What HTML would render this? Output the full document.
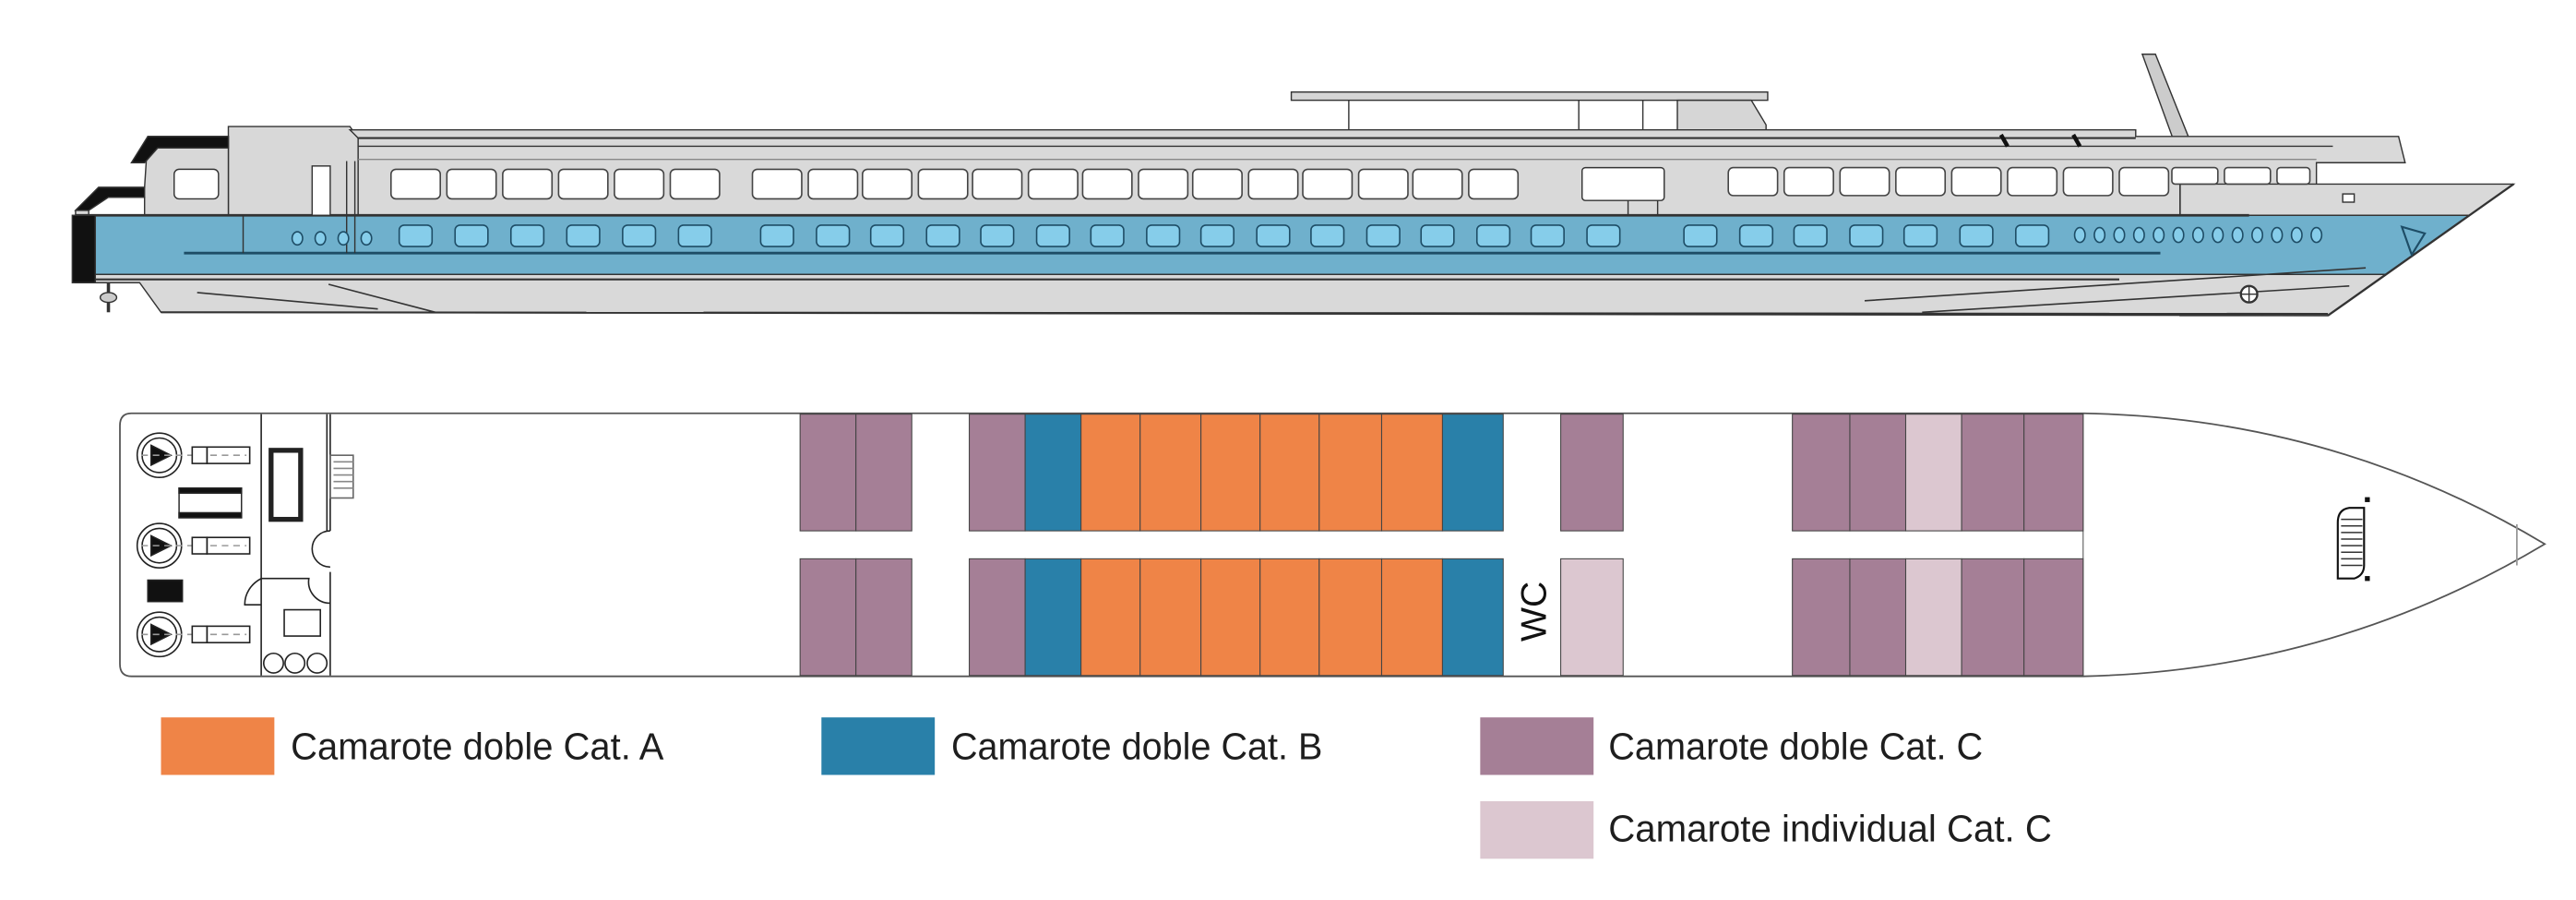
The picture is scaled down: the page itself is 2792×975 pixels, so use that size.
<!DOCTYPE html>
<html><head><meta charset="utf-8"><style>
html,body{margin:0;padding:0;background:#fff;}
svg{display:block;}
</style></head><body>
<svg width="2792" height="975" viewBox="0 0 1568 547.6" preserveAspectRatio="none" xmlns="http://www.w3.org/2000/svg" font-family="'Liberation Sans', sans-serif">
<rect width="1568" height="548" fill="#fff"/>
<!-- ===== SIDE VIEW ===== -->
<g stroke="#333" stroke-width="0.8">
<rect x="786" y="56" width="290" height="5" fill="#d6d6d6"/>
<line x1="821" y1="61" x2="821" y2="80"/><line x1="961" y1="61" x2="961" y2="80"/><line x1="1000" y1="61" x2="1000" y2="80"/>
<path d="M1021 61 L1066 61 L1075 76 L1075 82 L1021 82 Z" fill="#d6d6d6"/>
<path d="M1304 33 L1312 33 L1334 88 L1324 88 Z" fill="#ccc"/>
<path d="M139 77 L213 77 L218 84 L218 131 L139 131 Z" fill="#d8d8d8"/>
<path d="M90 83 L139 83 L139 131 L88 131 L88 120 L54 120 L54 131 L46 131 L46 128 L60 114 L88 114 Z" fill="#d8d8d8"/>
<path d="M90 83 L80 99 L88 99 L96 90 L139 90 L139 83 Z" fill="#111"/>
<path d="M60 114 L46 128 L54 128 L66 120 L88 120 L88 114 Z" fill="#111"/>
<path d="M213 79 L1300 79 L1300 83 L1460 83 L1464 99 L1410 99 L1410 131 L218 131 L218 84 Z" fill="#d9d9d9"/>
<line x1="218" y1="84" x2="1300" y2="84" stroke-width="1.2"/>
<line x1="218" y1="89" x2="1420" y2="89"/>
<line x1="218" y1="97" x2="1410" y2="97" stroke="#888"/>
<path d="M1218 82 L1222 89 M1262 82 L1266 89" stroke="#111" stroke-width="2.5"/>
<path d="M1327 112 L1530 112 L1417 192 L1327 192 Z" fill="#d9d9d9"/>
<path d="M46 131 L1503 131 L1452 167 L46 167 Z" fill="#6fb0cc"/>
<line x1="1327" y1="112" x2="1327" y2="131"/>
<line x1="46" y1="131" x2="1369" y2="131" stroke-width="1.5"/>
<line x1="112" y1="154" x2="1315" y2="154" stroke="#1e4d66" stroke-width="1.6"/>
<path d="M46 167 L1452 167 L1417 192 L98 190 L85 172 L46 172 Z" fill="#d9d9d9"/>
<line x1="46" y1="170" x2="1290" y2="170" stroke-width="1.2"/>
<line x1="98" y1="190" x2="1417" y2="191" stroke-width="1.2"/>
<path d="M120 178 L230 188 M200 173 L265 190 M1135 183 L1440 163 M1170 190 L1430 174" stroke-width="0.9"/>
<circle cx="1369" cy="179" r="5" fill="#fff" stroke-width="1.3"/>
<line x1="1369" y1="174" x2="1369" y2="184"/><line x1="1364" y1="179" x2="1374" y2="179"/>
<rect x="44" y="131" width="14" height="41" fill="#111"/>
<path d="M66 172 L66 190" stroke-width="2"/>
<ellipse cx="66" cy="181" rx="5" ry="3" fill="#ccc"/>
<path d="M1530 112 L1417 192" stroke-width="1.3" fill="none"/>
<path d="M1462 138 L1468 155 L1476 142 Z" fill="none" stroke="#1e4d66" stroke-width="1.2"/>
<rect x="1426" y="118" width="7" height="5" fill="#fff"/>
<line x1="148" y1="131" x2="148" y2="154"/>
<line x1="211" y1="98" x2="211" y2="154"/><line x1="216" y1="98" x2="216" y2="154"/>
<rect x="190" y="101" width="11" height="30" fill="#fff"/>
<rect x="106" y="103" width="27" height="18" rx="3" fill="#fff"/>
<line x1="991" y1="121" x2="991" y2="131"/><line x1="1009" y1="121" x2="1009" y2="131"/>
<rect x="963" y="102" width="50" height="20" rx="2" fill="#fff"/>
</g>
<g fill="#fff" stroke="#444" stroke-width="0.9">
<rect x="238" y="103" width="30" height="18" rx="3"/><rect x="272" y="103" width="30" height="18" rx="3"/><rect x="306" y="103" width="30" height="18" rx="3"/><rect x="340" y="103" width="30" height="18" rx="3"/><rect x="374" y="103" width="30" height="18" rx="3"/><rect x="408" y="103" width="30" height="18" rx="3"/>
<rect x="458" y="103" width="30" height="18" rx="3"/><rect x="492" y="103" width="30" height="18" rx="3"/><rect x="525" y="103" width="30" height="18" rx="3"/><rect x="559" y="103" width="30" height="18" rx="3"/><rect x="592" y="103" width="30" height="18" rx="3"/><rect x="626" y="103" width="30" height="18" rx="3"/><rect x="659" y="103" width="30" height="18" rx="3"/><rect x="693" y="103" width="30" height="18" rx="3"/><rect x="726" y="103" width="30" height="18" rx="3"/><rect x="760" y="103" width="30" height="18" rx="3"/><rect x="793" y="103" width="30" height="18" rx="3"/><rect x="827" y="103" width="30" height="18" rx="3"/><rect x="860" y="103" width="30" height="18" rx="3"/><rect x="894" y="103" width="30" height="18" rx="3"/>
<rect x="1052" y="102" width="30" height="17" rx="3"/><rect x="1086" y="102" width="30" height="17" rx="3"/><rect x="1120" y="102" width="30" height="17" rx="3"/><rect x="1154" y="102" width="30" height="17" rx="3"/><rect x="1188" y="102" width="30" height="17" rx="3"/><rect x="1222" y="102" width="30" height="17" rx="3"/><rect x="1256" y="102" width="30" height="17" rx="3"/><rect x="1290" y="102" width="30" height="17" rx="3"/>
<rect x="1322" y="102" width="28" height="10" rx="2"/><rect x="1354" y="102" width="28" height="10" rx="2"/><rect x="1386" y="102" width="20" height="10" rx="2"/>
</g>
<g fill="#86cdea" stroke="#1e4d66" stroke-width="0.9">
<rect x="243" y="137" width="20" height="13" rx="3"/><rect x="277" y="137" width="20" height="13" rx="3"/><rect x="311" y="137" width="20" height="13" rx="3"/><rect x="345" y="137" width="20" height="13" rx="3"/><rect x="379" y="137" width="20" height="13" rx="3"/><rect x="413" y="137" width="20" height="13" rx="3"/>
<rect x="463" y="137" width="20" height="13" rx="3"/><rect x="497" y="137" width="20" height="13" rx="3"/><rect x="530" y="137" width="20" height="13" rx="3"/><rect x="564" y="137" width="20" height="13" rx="3"/><rect x="597" y="137" width="20" height="13" rx="3"/><rect x="631" y="137" width="20" height="13" rx="3"/><rect x="664" y="137" width="20" height="13" rx="3"/><rect x="698" y="137" width="20" height="13" rx="3"/><rect x="731" y="137" width="20" height="13" rx="3"/><rect x="765" y="137" width="20" height="13" rx="3"/><rect x="798" y="137" width="20" height="13" rx="3"/><rect x="832" y="137" width="20" height="13" rx="3"/><rect x="865" y="137" width="20" height="13" rx="3"/><rect x="899" y="137" width="20" height="13" rx="3"/><rect x="932" y="137" width="20" height="13" rx="3"/><rect x="966" y="137" width="20" height="13" rx="3"/>
<rect x="1025" y="137" width="20" height="13" rx="3"/><rect x="1059" y="137" width="20" height="13" rx="3"/><rect x="1092" y="137" width="20" height="13" rx="3"/><rect x="1126" y="137" width="20" height="13" rx="3"/><rect x="1159" y="137" width="20" height="13" rx="3"/><rect x="1193" y="137" width="20" height="13" rx="3"/><rect x="1227" y="137" width="20" height="13" rx="3"/>
<ellipse cx="181" cy="145" rx="3.2" ry="4"/><ellipse cx="195" cy="145" rx="3.2" ry="4"/><ellipse cx="209" cy="145" rx="3.2" ry="4"/><ellipse cx="223" cy="145" rx="3.2" ry="4"/>
<ellipse cx="1266" cy="143" rx="3.2" ry="4.5"/><ellipse cx="1278" cy="143" rx="3.2" ry="4.5"/><ellipse cx="1290" cy="143" rx="3.2" ry="4.5"/><ellipse cx="1302" cy="143" rx="3.2" ry="4.5"/><ellipse cx="1314" cy="143" rx="3.2" ry="4.5"/><ellipse cx="1326" cy="143" rx="3.2" ry="4.5"/><ellipse cx="1338" cy="143" rx="3.2" ry="4.5"/><ellipse cx="1350" cy="143" rx="3.2" ry="4.5"/><ellipse cx="1362" cy="143" rx="3.2" ry="4.5"/><ellipse cx="1374" cy="143" rx="3.2" ry="4.5"/><ellipse cx="1386" cy="143" rx="3.2" ry="4.5"/><ellipse cx="1398" cy="143" rx="3.2" ry="4.5"/><ellipse cx="1410" cy="143" rx="3.2" ry="4.5"/>
</g>

<!-- ===== FLOOR PLAN ===== -->
<path d="M80 251.5 L1268 251.5 Q1420 254 1549 331 Q1420 408 1268 411.5 L80 411.5 Q73 411.5 73 404 L73 259 Q73 251.5 80 251.5 Z" fill="#fff" stroke="#555" stroke-width="1"/>
<line x1="1532" y1="319" x2="1532" y2="344" stroke="#999" stroke-width="1"/>
<line x1="1268" y1="251.5" x2="1268" y2="411.5" stroke="#555" stroke-width="0.6"/>
<g stroke="#444" stroke-width="0.6">
<g fill="#a57f96">
<rect x="487" y="252" width="34" height="71"/><rect x="521" y="252" width="34" height="71"/><rect x="590" y="252" width="34" height="71"/>
<rect x="487" y="340" width="34" height="71"/><rect x="521" y="340" width="34" height="71"/><rect x="590" y="340" width="34" height="71"/>
<rect x="950" y="252" width="38" height="71"/>
<rect x="1091" y="252" width="35" height="71"/><rect x="1126" y="252" width="34" height="71"/><rect x="1194" y="252" width="38" height="71"/><rect x="1232" y="252" width="36" height="71"/>
<rect x="1091" y="340" width="35" height="71"/><rect x="1126" y="340" width="34" height="71"/><rect x="1194" y="340" width="38" height="71"/><rect x="1232" y="340" width="36" height="71"/>
</g>
<g fill="#dcc7d0">
<rect x="1160" y="252" width="34" height="71"/><rect x="1160" y="340" width="34" height="71"/><rect x="950" y="340" width="38" height="71"/>
</g>
<g fill="#2980a9">
<rect x="624" y="252" width="34" height="71"/><rect x="878" y="252" width="37" height="71"/>
<rect x="624" y="340" width="34" height="71"/><rect x="878" y="340" width="37" height="71"/>
</g>
<g fill="#ef8447">
<rect x="658" y="252" width="36" height="71"/><rect x="694" y="252" width="37" height="71"/><rect x="731" y="252" width="36" height="71"/><rect x="767" y="252" width="36" height="71"/><rect x="803" y="252" width="38" height="71"/><rect x="841" y="252" width="37" height="71"/>
<rect x="658" y="340" width="36" height="71"/><rect x="694" y="340" width="37" height="71"/><rect x="731" y="340" width="36" height="71"/><rect x="767" y="340" width="36" height="71"/><rect x="803" y="340" width="38" height="71"/><rect x="841" y="340" width="37" height="71"/>
</g>
</g>
<text x="0" y="0" font-size="22" fill="#111" transform="translate(941 372) rotate(-90)" text-anchor="middle">WC</text>
<g stroke="#222" stroke-width="0.9" fill="none">
<line x1="159" y1="252" x2="159" y2="411"/><line x1="201" y1="252" x2="201" y2="323"/><line x1="199" y1="252" x2="199" y2="323"/>
<line x1="201" y1="348" x2="201" y2="411"/>
<path d="M201 323 A10 10 0 0 0 201 345"/>
<path d="M159 368 L149 368 A20 18 0 0 1 159 352 L188 352 A13 13 0 0 0 201 367"/>
<g id="pr">
<circle cx="97" cy="277" r="13.5"/><circle cx="97" cy="277" r="10.5"/>
<path d="M92 271 L104 277 L92 283 Z" fill="#111"/>
<line x1="86" y1="277" x2="150" y2="277" stroke="#999" stroke-dasharray="4 3"/>
<rect x="117" y="272" width="9" height="10" fill="#fff"/><rect x="126" y="272" width="26" height="10"/>
</g>
<use href="#pr" y="55"/><use href="#pr" y="109"/>
<rect x="109" y="297" width="38" height="18" stroke-width="0.8"/>
<rect x="109" y="297" width="38" height="3" fill="#111"/><rect x="109" y="312" width="38" height="3" fill="#111"/>
<rect x="90" y="353" width="21" height="13" fill="#111"/>
<rect x="165" y="274" width="18" height="42" stroke-width="3"/>
<rect x="201" y="277" width="14" height="26" stroke="#666"/>
<path d="M203 281 H215 M203 285 H215 M203 289 H215 M203 293 H215 M203 297 H215" stroke="#888"/>
<rect x="173" y="371" width="22" height="16"/>
<circle cx="166.5" cy="403.5" r="6"/><circle cx="179.5" cy="403.5" r="6"/><circle cx="193" cy="403.5" r="6"/>
</g>
<path d="M1439 309 L1430 309 Q1423 310 1423 318 L1423 352 L1433 352 Q1439 350 1439 344 Z" fill="#fff" stroke="#111" stroke-width="1.2"/>
<path d="M1425 316 H1438 M1425 320 H1438 M1425 324 H1438 M1425 328 H1438 M1425 332 H1438 M1425 336 H1438 M1425 340 H1438 M1425 344 H1438" stroke="#333" stroke-width="0.8"/>
<rect x="1439.5" y="302.5" width="3" height="3" fill="#111"/><rect x="1439.5" y="350.5" width="3" height="3" fill="#111"/>

<rect x="98" y="436.5" width="69" height="35" fill="#ef8447"/>
<rect x="500" y="436.5" width="69" height="35" fill="#2980a9"/>
<rect x="901" y="436.5" width="69" height="35" fill="#a57f96"/>
<rect x="901" y="487.5" width="69" height="35" fill="#dcc7d0"/>
<g font-size="23" fill="#1e1e1e">
<text x="177" y="462" textLength="227" lengthAdjust="spacingAndGlyphs">Camarote doble Cat. A</text>
<text x="579" y="462" textLength="226" lengthAdjust="spacingAndGlyphs">Camarote doble Cat. B</text>
<text x="979" y="462" textLength="228" lengthAdjust="spacingAndGlyphs">Camarote doble Cat. C</text>
<text x="979" y="512" textLength="270" lengthAdjust="spacingAndGlyphs">Camarote individual Cat. C</text>
</g>
</svg>
</body></html>
